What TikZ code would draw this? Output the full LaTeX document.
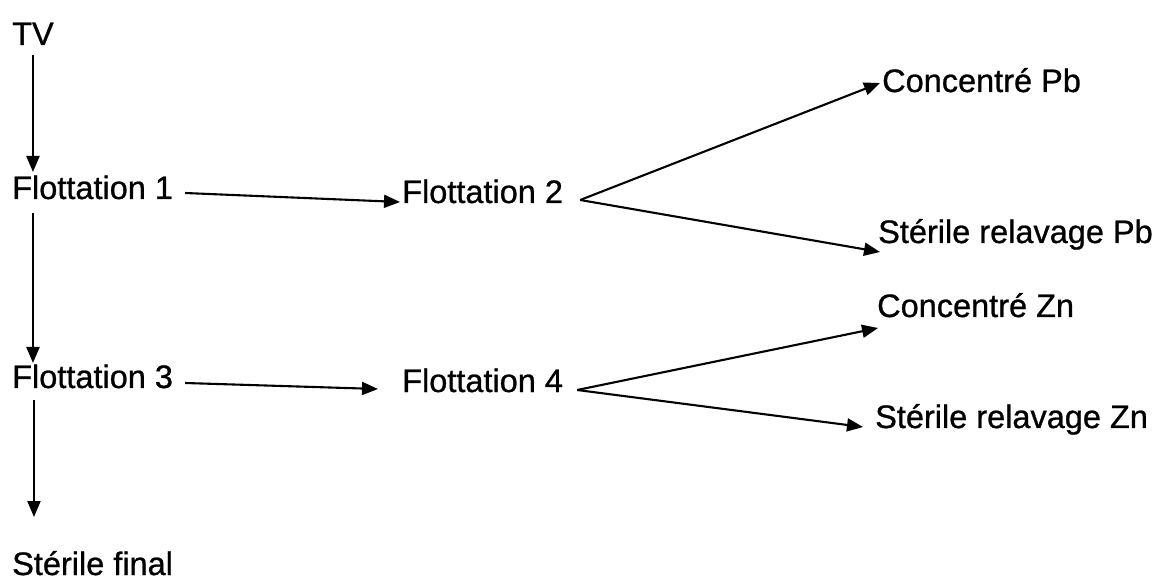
\documentclass[tikz,border=0pt]{standalone}
\usepackage{fontspec}
\setmainfont{Liberation Sans}[FakeBold=0.8]
\usetikzlibrary{arrows.meta,calc}
\begin{document}
\begin{tikzpicture}[x=1pt,y=-1pt,
  lbl/.style={anchor=base west,inner sep=0pt,font=\fontsize{32.5}{38}\selectfont},
  arr/.style={line width=2.1pt,-{Triangle[length=16pt,width=13pt]}},
  ln/.style={line width=2.1pt}]
\useasboundingbox[fill=white] (0,0) rectangle (1160,585);
% nodes
\node[lbl] (tv)   at (12,45)   {TV};
\node[lbl] (f1)   at (12,199)  {Flottation 1};
\node[lbl] (f2)   at (402,203) {Flottation 2};
\node[lbl] (cpb)  at (882,92)  {Concentré Pb};
\node[lbl] (srpb) at (878,243) {Stérile relavage Pb};
\node[lbl] (czn)  at (877,317) {Concentré Zn};
\node[lbl] (f3)   at (12,388)  {Flottation 3};
\node[lbl] (f4)   at (402,392) {Flottation 4};
\node[lbl] (srzn) at (875,428) {Stérile relavage Zn};
\node[lbl] (sf)   at (12,575)  {Stérile final};
% fan origins
\coordinate (o2) at ($(f2.base east)+(17,-3)$);
\coordinate (o4) at ($(f4.base east)+(14,-2)$);
% vertical arrows
\draw[arr] ($(tv.south)+(0,10)$) -- ($(tv.south |- f1.base)+(0,-27)$);
\draw[arr] ($(tv.south |- f1.base)+(0,14)$) -- ($(tv.south |- f3.base)+(0,-25)$);
\draw[arr] ($(tv.south |- f3.base)+(1,12)$) -- ($(tv.south |- sf.base)+(1,-58)$);
% horizontal arrows
\draw[arr] ($(f1.base east)+(12,-6)$) -- ($(f2.base west)+(-2,-1)$);
\draw[arr] ($(f3.base east)+(12,-5)$) -- ($(f4.base west)+(-24,-3)$);
% fans
\draw[arr] (o2) -- ($(cpb.base west)+(-2,-9)$);
\draw[arr] (o2) -- ($(srpb.base west)+(2,9)$);
\draw[arr] (o4) -- ($(czn.base west)+(1,11)$);
\draw[arr] (o4) -- ($(srzn.base west)+(-12,-1)$);
\end{tikzpicture}
\end{document}
